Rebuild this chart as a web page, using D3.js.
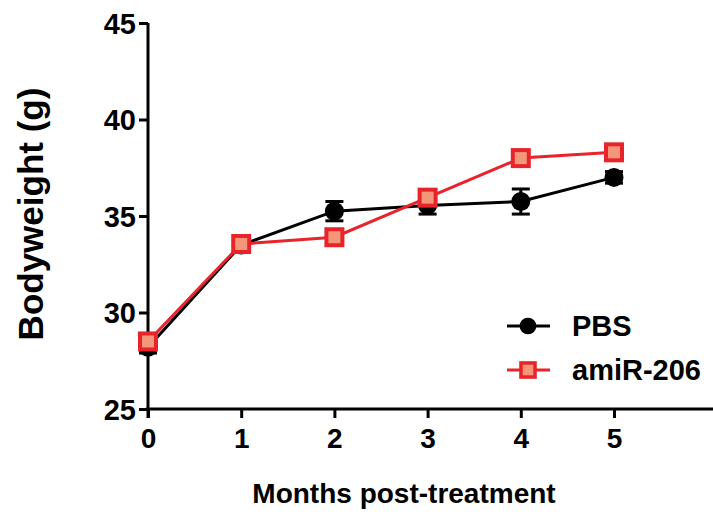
<!DOCTYPE html>
<html>
<head>
<meta charset="utf-8">
<script src="https://cdn.jsdelivr.net/npm/d3@7"></script>
<style>
  body { margin: 0; background: #fff; }
  svg text { font-family: "Liberation Sans", Arial, sans-serif; font-weight: bold; fill: #000; }
</style>
</head>
<body>
<svg width="713" height="517"></svg>
<script>
var months = [0, 1, 2, 3, 4, 5];
var pbsMean = [28.2, 33.5, 35.25, 35.55, 35.75, 37.0];
var pbsErr = [0.3, 0.25, 0.5, 0.45, 0.65, 0.3];
var amiMean = [28.5, 33.55, 33.9, 35.95, 38.0, 38.3];
var amiErr = [0.2, 0.2, 0.3, 0.2, 0.25, 0.35];
var yTicks = [25, 30, 35, 40, 45];

var svg = d3.select("svg");
var x = d3.scaleLinear().domain([0, 5]).range([148, 614]);
var y = d3.scaleLinear().domain([25, 45]).range([409, 23]);

// axes
var gx = svg.append("g").attr("transform", "translate(0," + y(25) + ")")
  .call(d3.axisBottom(x).tickValues(months).tickSize(9).tickPadding(10).tickFormat(d3.format("d")));
gx.select(".domain").remove();
gx.append("line").attr("x1", x(0) - 2).attr("x2", 713).attr("stroke", "#000").attr("stroke-width", 3);
gx.selectAll(".tick line").attr("stroke-width", 3);
gx.selectAll(".tick text").style("font-size", "28px");

var gy = svg.append("g").attr("transform", "translate(" + x(0) + ",0)")
  .call(d3.axisLeft(y).tickValues(yTicks).tickSize(9).tickPadding(3));
gy.select(".domain").remove();
gy.append("line").attr("y1", y(45)).attr("y2", y(25) + 9).attr("stroke", "#000").attr("stroke-width", 3);
gy.selectAll(".tick line").attr("stroke-width", 3);
gy.selectAll(".tick text").style("font-size", "29px").attr("dy", "0.36em");

svg.append("text").attr("x", 404).attr("y", 503).attr("text-anchor", "middle")
  .style("font-size", "28px").text("Months post-treatment");
svg.append("text").attr("transform", "translate(43," + 214 + ") rotate(-90)")
  .attr("text-anchor", "middle").style("font-size", "35px").text("Bodyweight (g)");

var series = [
  { name: "PBS", mean: pbsMean, err: pbsErr, color: "#000", shape: "circle" },
  { name: "amiR-206", mean: amiMean, err: amiErr, color: "#e8232a", shape: "square" }
];

var line = d3.line().x(function(d, i) { return x(months[i]); }).y(function(d) { return y(d); });

series.forEach(function(s) {
  var g = svg.append("g");
  g.append("path").attr("d", line(s.mean)).attr("fill", "none")
    .attr("stroke", s.color).attr("stroke-width", 3);
  s.mean.forEach(function(m, i) {
    var cx = x(months[i]);
    g.append("line").attr("x1", cx).attr("x2", cx)
      .attr("y1", y(m - s.err[i])).attr("y2", y(m + s.err[i]))
      .attr("stroke", s.color).attr("stroke-width", 3);
    [m - s.err[i], m + s.err[i]].forEach(function(v) {
      g.append("line").attr("x1", cx - 9).attr("x2", cx + 9).attr("y1", y(v)).attr("y2", y(v))
        .attr("stroke", s.color).attr("stroke-width", 3);
    });
    drawMarker(g, s, cx, y(m), 1);
  });
});

function drawMarker(g, s, cx, cy, k) {
  if (s.shape === "circle") {
    g.append("circle").attr("cx", cx).attr("cy", cy).attr("r", 9.5 * k).attr("fill", "#000");
  } else {
    var h = 8 * k;
    g.append("rect").attr("x", cx - h).attr("y", cy - h).attr("width", 2 * h).attr("height", 2 * h)
      .attr("fill", "#f3967a").attr("stroke", s.color).attr("stroke-width", 4 * k);
  }
}

// legend
series.forEach(function(s, i) {
  var ly = 326 + i * 44;
  var g = svg.append("g");
  g.append("line").attr("x1", 507).attr("x2", 550).attr("y1", ly).attr("y2", ly)
    .attr("stroke", s.color).attr("stroke-width", 3);
  drawMarker(g, s, 528, ly, 0.88);
  g.append("text").attr("x", 572).attr("y", ly).attr("dy", "0.36em")
    .style("font-size", "29px").text(s.name);
});
</script>
</body>
</html>
